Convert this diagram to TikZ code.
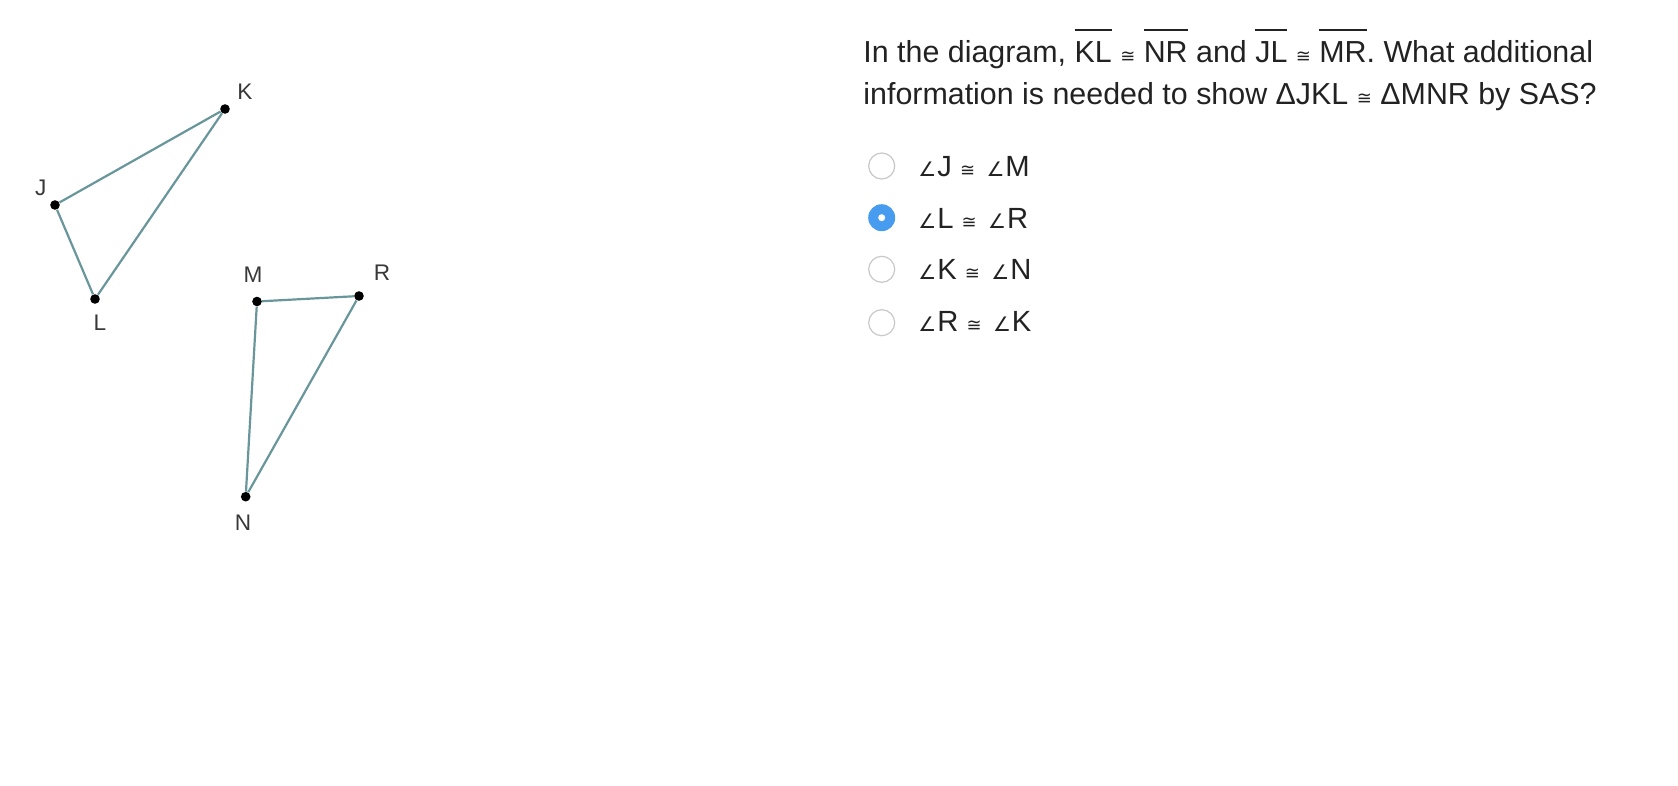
\documentclass[tikz,border=0pt]{standalone}
\usepackage{fontspec}
\setmainfont{Liberation Sans}
\newfontfamily\symbfont{DejaVu Sans}
\frenchspacing

\definecolor{trait}{RGB}{104,150,154}
\definecolor{bleuradio}{RGB}{72,156,240}
\definecolor{grisradio}{RGB}{200,200,200}
\definecolor{texte}{RGB}{34,34,34}

% symboles : congruent, angle, segment
\newcommand\congr{{\symbfont\fontsize{9pt}{9pt}\selectfont ≅}}
\newcommand\angl{{\symbfont\fontsize{10pt}{10pt}\selectfont ∠}\kern0.5pt}
\newcommand\segm[1]{\setbox0\hbox{#1}\rlap{\raisebox{1.03em}{\rule{\wd0}{1pt}}}\box0\relax}

\begin{document}
\begin{tikzpicture}[x=0.5pt,y=-0.5pt,
  point/.style={circle,fill=black,inner sep=0pt,minimum size=4.8pt},
  cote/.style={color=trait,line width=1.1pt},
  lettre/.style={text=texte!90,font=\fontsize{11.3pt}{12pt}\selectfont,inner sep=0pt},
  radio/.style={circle,draw=grisradio,line width=0.6pt,inner sep=0pt,minimum size=13pt},
  radiosel/.style={circle,fill=bleuradio,inner sep=0pt,minimum size=13.5pt},
  choixtxt/.style={anchor=base west,text=texte,font=\fontsize{14.6pt}{16pt}\selectfont,inner sep=0pt},
  question/.style={anchor=base west,text=texte,font=\fontsize{15.2pt}{18pt}\selectfont,inner sep=0pt}]

\useasboundingbox (0,0) rectangle (1678,786);

% triangle JKL
\node[point] (J) at (55,205) {};
\node[point] (K) at (225,109) {};
\node[point] (L) at (95,299) {};
\draw[cote] (J) -- (K) -- (L) -- (J);
\node[lettre] (lJ) at (40.7,188) {J};
\node[lettre] (lK) at (245,92) {K};
\node[lettre] (lL) at (100,323) {L};

% triangle MNR
\node[point] (M) at (257,301.5) {};
\node[point] (R) at (359,296) {};
\node[point] (N) at (245.7,496.7) {};
\draw[cote] (M) -- (R) -- (N) -- (M);
\node[lettre] (lM) at (253,275) {M};
\node[lettre] (lR) at (382,273) {R};
\node[lettre] (lN) at (243,523) {N};

% enonce
\node[question] (q1) at (863,62.7) {In the diagram, \segm{KL} \congr{} \segm{NR} and \segm{JL} \congr{} \segm{MR}. What additional};
\node[question] (q2) at (863,104.3) {information is needed to show ΔJKL \congr{} ΔMNR by SAS?};

% choix
\node[radio] (c1) at (881.7,166) {};
\node[radiosel] (c2) at (881.7,217.7) {};
\fill[white] (c2) circle (3.5);
\node[radio] (c3) at (881.7,269.3) {};
\node[radio] (c4) at (881.7,322.7) {};
\node[choixtxt] (r1) at (918,176.7) {\angl J \congr{}\hspace{5.7pt}\angl M};
\node[choixtxt] (r2) at (918,229) {\angl L \congr{}\hspace{5.7pt}\angl R};
\node[choixtxt] (r3) at (918,280) {\angl K \congr{}\hspace{5.7pt}\angl N};
\node[choixtxt] (r4) at (918,331.7) {\angl R \congr{}\hspace{5.7pt}\angl K};

\end{tikzpicture}
\end{document}
